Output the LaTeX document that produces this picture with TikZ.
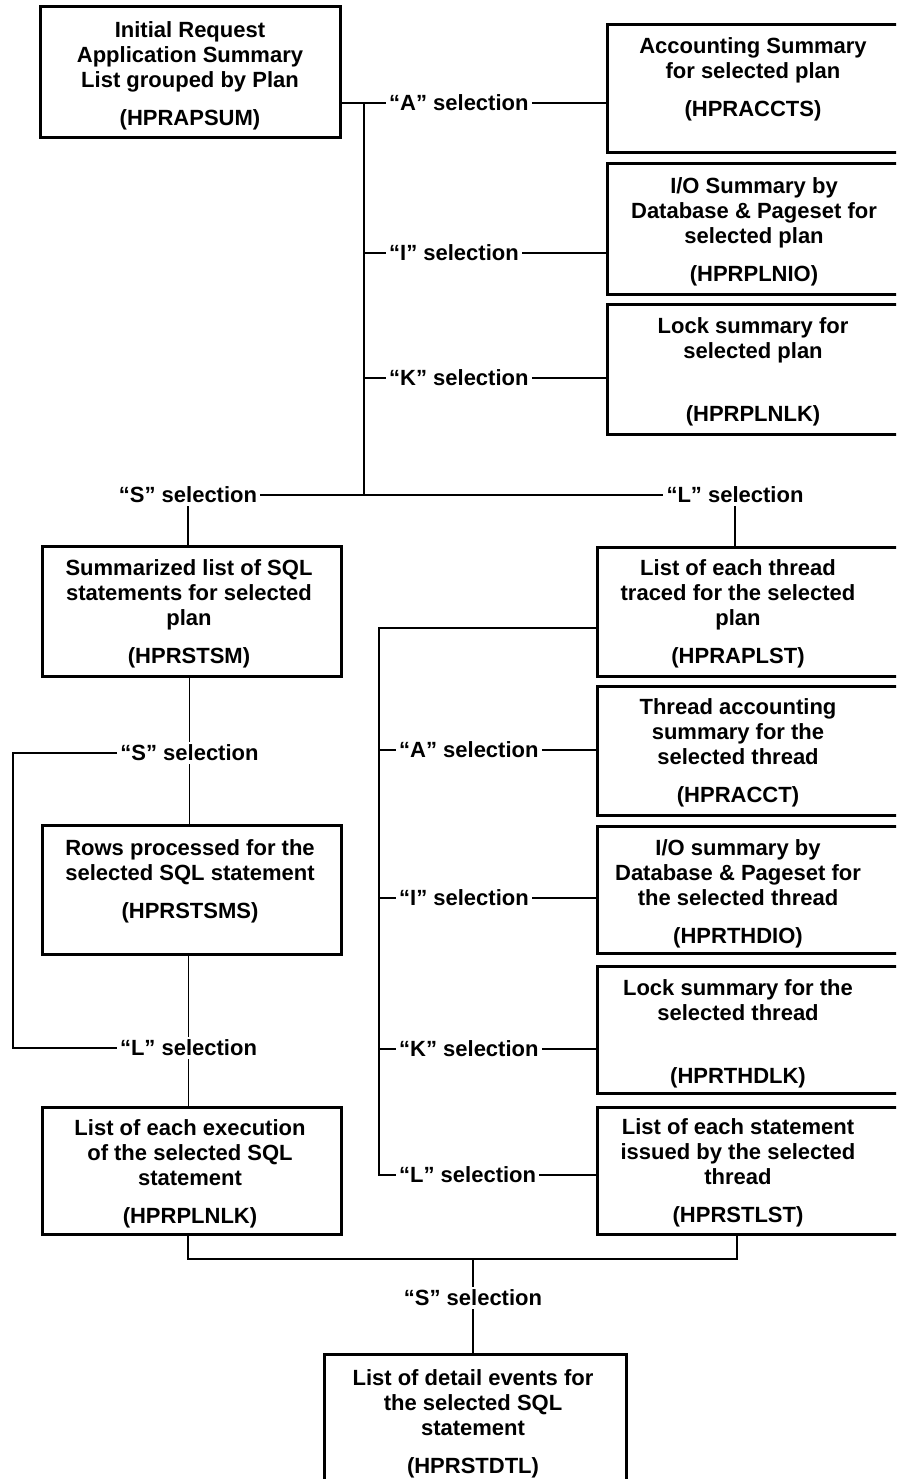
\documentclass[tikz,border=0pt]{standalone}
\usepackage{fontspec}
\setmainfont{Liberation Sans}
\begin{document}
\begin{tikzpicture}[x=1pt,y=-1pt,
  box/.style={draw, line width=3pt, inner sep=0pt},
  txt/.style={align=center, font=\bfseries\fontsize{22}{25}\selectfont, inner sep=0pt},
  sel/.style={font=\bfseries\fontsize{22}{25}\selectfont, inner sep=3pt},
  link/.style={line width=1.6pt}]
\useasboundingbox (0,0) rectangle (896,1479);
\clip (0,0) rectangle (896,1479);

% ---- report boxes ----
\node[box, minimum width=300pt, minimum height=131pt] (b1)  at (190,72.5)    {};
\node[box, minimum width=295pt, minimum height=128pt] (b2)  at (754.5,89)    {};
\node[box, minimum width=295pt, minimum height=130pt] (b3)  at (754.5,229)   {};
\node[box, minimum width=295pt, minimum height=130pt] (b4)  at (754.5,369)   {};
\node[box, minimum width=299pt, minimum height=130pt] (b5)  at (191.5,611)   {};
\node[box, minimum width=299pt, minimum height=129pt] (b6)  at (191.5,889.5) {};
\node[box, minimum width=299pt, minimum height=127pt] (b7)  at (191.5,1170.5){};
\node[box, minimum width=305pt, minimum height=129pt] (b8)  at (749.5,611.5) {};
\node[box, minimum width=305pt, minimum height=129pt] (b9)  at (749.5,750.5) {};
\node[box, minimum width=305pt, minimum height=127pt] (b10) at (749.5,889.5) {};
\node[box, minimum width=305pt, minimum height=127pt] (b11) at (749.5,1029.5){};
\node[box, minimum width=305pt, minimum height=127pt] (b12) at (749.5,1170.5){};
\node[box, minimum width=302pt, minimum height=132pt] (b13) at (475,1420)    {};

% ---- box texts ----
\node[txt] (t1)  at (190,75.5)   {Initial Request\\Application Summary\\List grouped by Plan\\[13pt](HPRAPSUM)};
\node[txt] (t2)  at (753,79)     {Accounting Summary\\for selected plan\\[13pt](HPRACCTS)};
\node[txt] (t3)  at (754,232)    {I/O Summary by\\Database \& Pageset for\\selected plan\\[13pt](HPRPLNIO)};
\node[txt] (t4)  at (753,372)    {Lock summary for\\selected plan\\[38pt](HPRPLNLK)};
\node[txt] (t5)  at (189,614)    {Summarized list of SQL\\statements for selected\\plan\\[13pt](HPRSTSM)};
\node[txt] (t6)  at (190,881.5)  {Rows processed for the\\selected SQL statement\\[13pt](HPRSTSMS)};
\node[txt] (t7)  at (190,1173.5) {List of each execution\\of the selected SQL\\statement\\[13pt](HPRPLNLK)};
\node[txt] (t8)  at (738,613.5)  {List of each thread\\traced for the selected\\plan\\[13pt](HPRAPLST)};
\node[txt] (t9)  at (738,753)    {Thread accounting\\summary for the\\selected thread\\[13pt](HPRACCT)};
\node[txt] (t10) at (738,893.5)  {I/O summary by\\Database \& Pageset for\\the selected thread\\[13pt](HPRTHDIO)};
\node[txt] (t11) at (738,1033.5) {Lock summary for the\\selected thread\\[38pt](HPRTHDLK)};
\node[txt] (t12) at (738,1172.5) {List of each statement\\issued by the selected\\thread\\[13pt](HPRSTLST)};
\node[txt] (t13) at (473,1423.5) {List of detail events for\\the selected SQL\\statement\\[13pt](HPRSTDTL)};

% ---- selection labels ----
\node[sel, anchor=west] (a1) at (386,103)  {“A” selection};
\node[sel, anchor=west] (i1) at (386,253)  {“I” selection};
\node[sel, anchor=west] (k1) at (386,378)  {“K” selection};
\node[sel] (s1) at (188,495)   {“S” selection};
\node[sel] (l1) at (735,495)   {“L” selection};
\node[sel] (s2) at (189.5,753) {“S” selection};
\node[sel] (l2) at (188.5,1048){“L” selection};
\node[sel, anchor=west] (a2) at (396,750)  {“A” selection};
\node[sel, anchor=west] (i2) at (396,898)  {“I” selection};
\node[sel, anchor=west] (k2) at (396,1049) {“K” selection};
\node[sel, anchor=west] (l3) at (396,1175) {“L” selection};
\node[sel] (s3) at (473,1298)  {“S” selection};

% ---- junction points ----
\coordinate (j1) at (364,103);
\coordinate (j2) at (364,495);
\coordinate (lp) at (13,753);
\coordinate (m1) at (188,1259);
\coordinate (m2) at (737,1259);
\coordinate (r1) at (379,628);

% ---- plan level selections ----
\draw[link] (b1.east |- a1) -- (a1.west);
\draw[link] (a1.east) -- (a1.east -| b2.west);
\draw[link] (j1) -- (j2);
\draw[link] (j1 |- i1) -- (i1.west);
\draw[link] (i1.east) -- (i1.east -| b3.west);
\draw[link] (j1 |- k1) -- (k1.west);
\draw[link] (k1.east) -- (k1.east -| b4.west);
\draw[link] (s1.east) -- (l1.west);
\draw[link] (s1.south) -- (s1.south |- b5.north);
\draw[link] (l1.south) -- (l1.south |- b8.north);

% ---- SQL statement branch ----
\draw[link] (s2.north |- b5.south) -- (s2.north);
\draw[link] (s2.south) -- (s2.south |- b6.north);
\draw[link] (s2.west) -- (lp) -- (lp |- l2) -- (l2.west);
\draw[link] (l2.north |- b6.south) -- (l2.north);
\draw[link] (l2.south) -- (l2.south |- b7.north);

% ---- thread branch ----
\draw[link] (r1 -| b8.west) -- (r1) -- (r1 |- l3) -- (l3.west);
\draw[link] (r1 |- a2) -- (a2.west);
\draw[link] (a2.east) -- (a2.east -| b9.west);
\draw[link] (r1 |- i2) -- (i2.west);
\draw[link] (i2.east) -- (i2.east -| b10.west);
\draw[link] (r1 |- k2) -- (k2.west);
\draw[link] (k2.east) -- (k2.east -| b11.west);
\draw[link] (l3.east) -- (l3.east -| b12.west);

% ---- detail events ----
\draw[link] (m1 |- b7.south) -- (m1) -- (m2) -- (m2 |- b12.south);
\draw[link] (s3.north |- m1) -- (s3.north);
\draw[link] (s3.south) -- (s3.south |- b13.north);
\end{tikzpicture}
\end{document}
